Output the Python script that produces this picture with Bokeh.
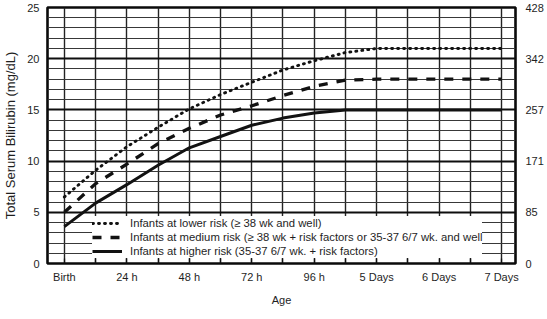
from bokeh.plotting import figure
from bokeh.models import FixedTicker, LinearAxis, Range1d
from bokeh.embed import file_html
from bokeh.resources import INLINE

# Age in days since birth and the bilirubin thresholds (mg/dL) for each risk group
age_days = [0, 0.5, 1, 1.5, 2, 2.5, 3, 3.5, 4, 4.5, 5, 7]
lower_risk = [6.5, 9.1, 11.4, 13.3, 15.1, 16.5, 17.7, 18.9, 19.8, 20.6, 21.0, 21.0]
medium_risk = [5.0, 7.8, 9.7, 11.7, 13.2, 14.5, 15.4, 16.4, 17.3, 17.9, 18.0, 18.0]
higher_risk = [3.6, 5.9, 7.7, 9.6, 11.3, 12.4, 13.5, 14.2, 14.7, 15.0, 15.0, 15.0]

series_labels = [
    "Infants at lower risk (\u2265 38 wk and well)",
    "Infants at medium risk (\u2265 38 wk + risk factors or 35-37 6/7 wk. and well",
    "Infants at higher risk (35-37 6/7 wk. + risk factors)",
]

x_tick_days = [0, 1, 2, 3, 4, 5, 6, 7]
x_tick_labels = ["Birth", "24 h", "48 h", "72 h", "96 h", "5 Days", "6 Days", "7 Days"]
mg_ticks = [0, 5, 10, 15, 20, 25]
umol_labels = ["0", "85", "171", "257", "342", "428"]

FONT = "Liberation Sans"
TEXT = "#1e1e1e"
INK = "#121212"

p = figure(
    width=547, height=319,
    x_range=Range1d(-0.27, 7.222), y_range=Range1d(0, 25),
    output_backend="svg", toolbar_location=None,
    min_border_left=43, min_border_right=32, min_border_top=7, min_border_bottom=56,
    background_fill_color="white", border_fill_color="white",
)
p.outline_line_color = "#0a0a0a"
p.outline_line_width = 2.6

# Chart-paper grid: half-day verticals, 1 mg/dL minor and 5 mg/dL major horizontals
half_days = [i / 2 for i in range(15)]
p.xgrid.ticker = FixedTicker(ticks=half_days)
p.xgrid.grid_line_color = "#222222"
p.xgrid.grid_line_width = 1.4
p.ygrid.ticker = FixedTicker(ticks=[5, 10, 15, 20],
                             minor_ticks=[v for v in range(1, 25) if v % 5])
p.ygrid.grid_line_color = "#0e0e0e"
p.ygrid.grid_line_width = 2.0
p.ygrid.minor_grid_line_color = "#383838"
p.ygrid.minor_grid_line_width = 1.1

# Curves
p.line(age_days, lower_risk, line_color=INK, line_width=2.9, line_dash="1 5",
       line_cap="round", legend_label=series_labels[0])
p.line(age_days, medium_risk, line_color=INK, line_width=3.3, line_dash="9 9",
       legend_label=series_labels[1])
p.line(age_days, higher_risk, line_color=INK, line_width=3.0, line_join="round",
       legend_label=series_labels[2])

# Bottom axis
xa = p.xaxis[0]
xa.ticker = FixedTicker(ticks=x_tick_days, minor_ticks=[d + 0.5 for d in range(7)])
xa.major_label_overrides = dict(zip(x_tick_days, x_tick_labels))
xa.axis_line_color = None
xa.major_tick_in = 5
xa.major_tick_out = 0
xa.minor_tick_in = 5
xa.minor_tick_out = 0
xa.major_tick_line_color = INK
xa.minor_tick_line_color = INK
xa.major_tick_line_width = 1.3
xa.minor_tick_line_width = 1.3
xa.major_label_standoff = 7
xa.major_label_text_font = FONT
xa.major_label_text_font_size = "11px"
xa.major_label_text_color = TEXT
xa.axis_label = "Age"
xa.axis_label_text_font = FONT
xa.axis_label_text_font_size = "11px"
xa.axis_label_text_font_style = "normal"
xa.axis_label_text_color = TEXT
xa.axis_label_standoff = 8

# Left axis (mg/dL)
ya = p.yaxis[0]
ya.ticker = FixedTicker(ticks=mg_ticks)
ya.axis_line_color = None
ya.major_tick_line_color = None
ya.minor_tick_line_color = None
ya.major_tick_in = 0
ya.major_tick_out = 0
ya.major_label_standoff = 8
ya.major_label_text_font = FONT
ya.major_label_text_font_size = "11px"
ya.major_label_text_color = TEXT
ya.axis_label = "Total Serum Bilirubin (mg/dL)"
ya.axis_label_text_font = FONT
ya.axis_label_text_font_size = "13px"
ya.axis_label_text_font_style = "normal"
ya.axis_label_text_color = TEXT
ya.axis_label_standoff = 6

# Right axis (µmol/L equivalents)
ra = LinearAxis(ticker=FixedTicker(ticks=mg_ticks),
                major_label_overrides=dict(zip(mg_ticks, umol_labels)))
ra.axis_line_color = None
ra.major_tick_line_color = None
ra.minor_tick_line_color = None
ra.major_tick_in = 0
ra.major_tick_out = 0
ra.major_label_standoff = 10
ra.major_label_text_font = FONT
ra.major_label_text_font_size = "11px"
ra.major_label_text_color = TEXT
p.add_layout(ra, "right")

# Legend box in the lower band of the chart
lg = p.legend[0]
lg.location = (45, 5)
lg.background_fill_color = "white"
lg.background_fill_alpha = 1.0
lg.border_line_color = None
lg.padding = 2
lg.spacing = 0
lg.margin = 0
lg.label_height = 14
lg.glyph_height = 14
lg.glyph_width = 30
lg.label_standoff = 8
lg.label_text_font = FONT
lg.label_text_font_size = "11.3px"
lg.label_text_color = TEXT

open("out.html", "w").write(file_html(p, INLINE))
